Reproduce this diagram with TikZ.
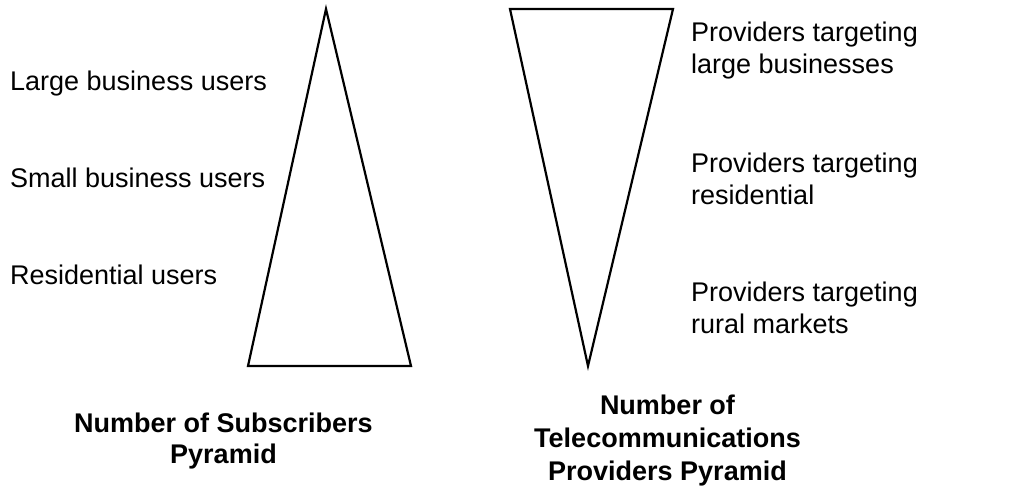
\documentclass[tikz,border=0pt]{standalone}
\usepackage{fontspec}
\setmainfont{Liberation Sans}
\tikzset{
  label/.style={anchor=north west, inner sep=0pt, align=left,
    font=\fontsize{27}{32}\selectfont},
  title/.style={anchor=north, inner sep=0pt, align=center,
    font=\fontsize{27}{32}\selectfont\bfseries},
  pyramid/.style={draw, line width=2.2pt, line join=miter}
}
\begin{document}
\begin{tikzpicture}[x=1pt,y=-1pt]
	\useasboundingbox (0,0) rectangle (1013,487);

	% subscribers pyramid
	\coordinate (subtop) at (326,9);
	\coordinate (subleft) at (248,366);
	\coordinate (subright) at (411,366);
	\draw[pyramid] (subtop) -- (subright) -- (subleft) -- cycle;

	\node[label] (large) at (10,70.5) {Large business users};
	\node[label] (small) at (10,167.5) {Small business users};
	\node[label] (resid) at (10,264.5) {Residential users};

	% providers pyramid
	\coordinate (provleft) at (510,9);
	\coordinate (provright) at (673,9);
	\coordinate (provtip) at (588,366);
	\draw[pyramid] (provleft) -- (provright) -- (provtip) -- cycle;

	\node[label] (plarge) at (691,21.5) {Providers targeting\\large businesses};
	\node[label] (presid) at (691,152.5) {Providers targeting\\residential};
	\node[label] (prural) at (691,281.5) {Providers targeting\\rural markets};

	% titles
	\node[title, font=\fontsize{27}{31}\selectfont\bfseries] (subtitle) at (223.5,412.5) {Number of Subscribers\\Pyramid};
	\node[title, font=\fontsize{27}{33}\selectfont\bfseries] (provtitle) at (667.5,394.5) {Number of\\Telecommunications\\Providers Pyramid};
\end{tikzpicture}
\end{document}
